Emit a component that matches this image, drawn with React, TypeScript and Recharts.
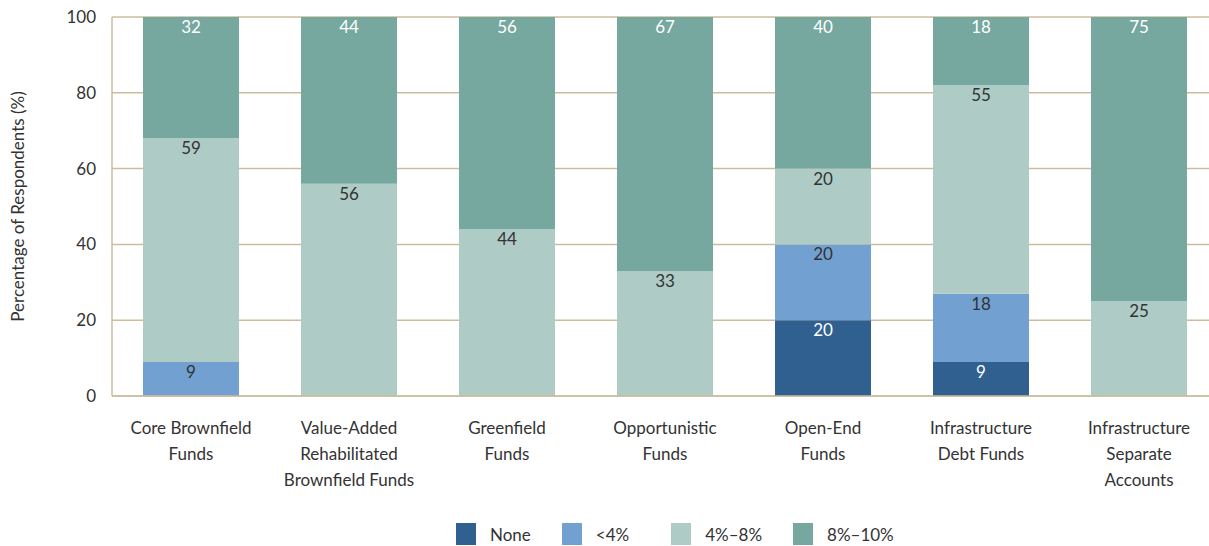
import React from 'react';
import { BarChart, Bar, XAxis, YAxis, CartesianGrid, LabelList, Legend } from 'recharts';

const categories = [
  'Core Brownfield|Funds',
  'Value-Added|Rehabilitated|Brownfield Funds',
  'Greenfield|Funds',
  'Opportunistic|Funds',
  'Open-End|Funds',
  'Infrastructure|Debt Funds',
  'Infrastructure|Separate|Accounts',
];
const noneVals = [0, 0, 0, 0, 20, 9, 0];
const lt4Vals = [9, 0, 0, 0, 20, 18, 0];
const mid48Vals = [59, 56, 44, 33, 20, 55, 25];
const hi810Vals = [32, 44, 56, 67, 40, 18, 75];
const yTicks = [0, 20, 40, 60, 80, 100];

const seriesDefs = [
  { key: 'none', name: 'None', color: '#2f6090', label: '#ffffff' },
  { key: 'lt4', name: '<4%', color: '#71a0d1', label: '#333333' },
  { key: 'mid', name: '4%–8%', color: '#aecbc6', label: '#333333' },
  { key: 'hi', name: '8%–10%', color: '#76a89f', label: '#ffffff' },
];

const data = categories.map((c, i) => ({
  name: c,
  none: noneVals[i],
  lt4: lt4Vals[i],
  mid: mid48Vals[i],
  hi: hi810Vals[i],
}));

const FONT = 'Lato, "Noto Sans", sans-serif';
const GRID = '#cdbd9c';

const XTick = (props: any) => {
  const { x, y, payload } = props;
  const lines = String(payload.value).split('|');
  return (
    <g transform={`translate(${x},${y})`}>
      {lines.map((l, i) => (
        <text key={i} x={0} y={30 + i * 26} textAnchor="middle" fill="#333" fontSize={17} fontFamily={FONT}>
          {l}
        </text>
      ))}
    </g>
  );
};

const LegendContent = () => (
  <div style={{ display: 'flex', justifyContent: 'flex-start', paddingLeft: 456, paddingTop: 27, alignItems: 'center', fontFamily: FONT, fontSize: 17, color: '#333' }}>
    {seriesDefs.map((s, i) => (
      <div key={s.key} style={{ display: 'flex', alignItems: 'center', marginRight: i === 0 ? 31 : i === 1 ? 42 : 31 }}>
        <div style={{ width: 20, height: 22, background: s.color, marginRight: 14 }} />
        <span>{s.name}</span>
      </div>
    ))}
  </div>
);

export default function App() {
  return (
    <div style={{ position: 'absolute', left: 0, top: 0, width: 1209, height: 546, background: '#fff', overflow: 'hidden' }}>
      <BarChart width={1218} height={546} data={data} margin={{ top: 17, right: 0, left: 0, bottom: 0 }}>
        <CartesianGrid vertical={false} stroke={GRID} strokeWidth={1.5} />
        <XAxis dataKey="name" tick={<XTick />} tickLine={false} axisLine={{ stroke: GRID, strokeWidth: 1.5 }} height={100} interval={0} />
        <YAxis
          domain={[0, 100]}
          ticks={yTicks}
          width={112}
          tickLine={false}
          tickMargin={10}
          axisLine={{ stroke: GRID, strokeWidth: 1.5 }}
          tick={{ fill: '#333', fontSize: 17, fontFamily: FONT }}
          label={{ value: 'Percentage of Respondents (%)', angle: -90, position: 'insideLeft', offset: 18, style: { textAnchor: 'middle', fill: '#333', fontSize: 17, fontFamily: FONT } }}
        />
        <Legend content={<LegendContent />} verticalAlign="bottom" height={50} />
        {seriesDefs.map((s) => (
          <Bar key={s.key} dataKey={s.key} name={s.name} stackId="a" fill={s.color} barSize={96} isAnimationActive={false}>
            <LabelList
              dataKey={s.key}
              position="insideTop"
              offset={4}
              fill={s.label}
              fontSize={17}
              fontFamily={FONT}
              formatter={(v: any) => (v ? v : '')}
            />
          </Bar>
        ))}
      </BarChart>
    </div>
  );
}
